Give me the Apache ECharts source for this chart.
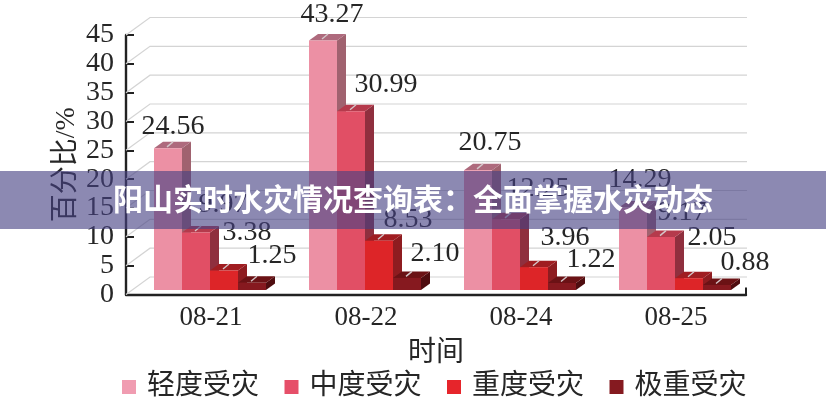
<!DOCTYPE html>
<html>
<head>
<meta charset="utf-8">
<style>html,body{margin:0;padding:0;background:#fff}#c{width:826px;height:400px}</style>
<script src="https://cdn.jsdelivr.net/npm/echarts@6/dist/echarts.min.js"></script>
</head>
<body>
<div id="c"></div>
<script>
const categories = ['08-21', '08-22', '08-24', '08-25'];
const seriesNames = ['轻度受灾', '中度受灾', '重度受灾', '极重受灾'];
const mild = [24.56, 43.27, 20.75, 14.29];
const moderate = [9.97, 30.99, 12.25, 9.17];
const severe = [3.38, 8.53, 3.96, 2.05];
const extreme = [1.25, 2.10, 1.22, 0.88];
const yTicks = [0, 5, 10, 15, 20, 25, 30, 35, 40, 45];
const bannerText = '阳山实时水灾情况查询表：全面掌握水灾动态';

const labelShift = [
  [[5, -22], [9, -26], [12, -28], [7, -28]],
  [[27, -28], [35, -27], [32, -31], [21, -24]],
  [[23, -38], [29, -21], [31, -30], [23, -41]],
  [[20, -27], [28, -24], [29, -23], [28, -22]]
];
const palette = [
  {front: '#ec90a4', side: '#a0626f', top: '#ae6a7d', legend: '#f09cb1'},
  {front: '#e14f65', side: '#8f2f3e', top: '#b53a4c', legend: '#e64f69'},
  {front: '#dd2528', side: '#8e1c20', top: '#a01d21', legend: '#e6252b'},
  {front: '#86191f', side: '#4f0d10', top: '#6b1215', legend: '#851a20'}
];
const serif = '"Liberation Serif","Noto Sans CJK SC",serif';
const ink = '#262626';
const BAR_W = 28, DEPTH_X = 9, DEPTH_Y = 6.5, FLOOR_X = 6.5, FLOOR_Y = 4.5;
const WALL_X = 24, WALL_Y = 17.5;

function barSeries(si, values) {
  const c = palette[si];
  return {
    type: 'custom', name: seriesNames[si], z: 3, clip: false,
    itemStyle: {color: c.legend},
    data: values.map((v, i) => [i, v]),
    encode: {x: 0, y: 1},
    renderItem(params, api) {
      const g = api.value(0), v = api.value(1);
      const p = api.coord([g, v]), b = api.coord([g, 0]);
      const x0 = p[0] + FLOOR_X - 2 * BAR_W + si * BAR_W, x1 = x0 + BAR_W;
      const yt = p[1] - FLOOR_Y, yb = b[1] - FLOOR_Y;
      const cx = x0 + BAR_W / 2;
      const s = labelShift[si][g];
      return {type: 'group', children: [
        {type: 'polygon', shape: {points: [[x1, yt], [x1 + DEPTH_X, yt - DEPTH_Y], [x1 + DEPTH_X, yb - DEPTH_Y], [x1, yb]]}, style: {fill: c.side}},
        {type: 'polygon', shape: {points: [[x0, yt], [x0 + DEPTH_X, yt - DEPTH_Y], [x1 + DEPTH_X, yt - DEPTH_Y], [x1, yt]]}, style: {fill: c.top}},
        {type: 'rect', shape: {x: x0, y: yt, width: BAR_W, height: yb - yt}, style: {fill: c.front}},
        {type: 'line', shape: {x1: cx - 1, y1: yt - 1.5, x2: cx + 5, y2: yt - 6.5}, style: {stroke: '#d3c6c9', lineWidth: 1.4}},
        {type: 'text', z2: 20, style: {
          text: v.toFixed(2), x: cx + s[0], y: yt + s[1], align: 'center', verticalAlign: 'middle',
          font: '28px ' + serif, fill: ink
        }}
      ]};
    }
  };
}

const wallSeries = {
  type: 'custom', name: 'wall', z: 1, silent: true, clip: false,
  data: yTicks.map(t => [0, t]),
  encode: {x: 0, y: 1},
  renderItem(params, api) {
    const t = api.value(1);
    const y = api.coord([0, t])[1];
    const r = params.coordSys;
    const left = r.x, right = r.x + r.width;
    return {type: 'group', children: [
      {type: 'polyline', shape: {points: [[left, y], [left + WALL_X, y - WALL_Y], [right + 1, y - WALL_Y]]},
       style: {stroke: '#d4d4d4', lineWidth: 1.2, fill: null}}
    ].concat(t === 0 ? [{type: 'line', shape: {x1: right, y1: y + 1, x2: right, y2: y - 7}, style: {stroke: '#222', lineWidth: 2}}] : [])};
  }
};

const chart = echarts.init(document.getElementById('c'), null, {renderer: 'canvas'});
chart.setOption({
  animation: false,
  backgroundColor: '#fff',
  grid: {left: 126, top: 35, width: 620, height: 259.5},
  legend: {
    data: seriesNames, left: 117, top: 368, itemWidth: 14, itemHeight: 14, itemGap: 25.5,
    icon: 'rect', selectedMode: false,
    textStyle: {fontSize: 28, fontFamily: serif, color: ink, padding: [0, 0, 0, 6]}
  },
  xAxis: {
    type: 'category', data: categories, boundaryGap: true,
    axisLine: {lineStyle: {color: '#222', width: 2.4}},
    axisTick: {show: false},
    axisLabel: {fontSize: 27, fontFamily: serif, color: ink, margin: 10, padding: [0, 0, 0, 15]},
    name: '时间', nameLocation: 'middle', nameGap: 45, nameMoveOverlap: false,
    nameTextStyle: {fontSize: 28, fontFamily: serif, color: ink}
  },
  yAxis: {
    type: 'value', min: 0, max: 45, interval: 5,
    axisLine: {show: true, lineStyle: {color: '#222', width: 2.4}},
    axisTick: {show: true, inside: true, length: 8, lineStyle: {color: '#222', width: 2}},
    axisLabel: {fontSize: 28, fontFamily: serif, color: ink, margin: 12},
    splitLine: {show: false},
    name: '百分比/%', nameLocation: 'middle', nameGap: 45, nameMoveOverlap: false,
    nameTextStyle: {fontSize: 28, fontFamily: serif, color: ink}
  },
  series: [wallSeries, barSeries(0, mild), barSeries(1, moderate), barSeries(2, severe), barSeries(3, extreme)],
  graphic: [
    {type: 'rect', z: 100, left: 0, top: 171, shape: {width: 826, height: 58}, style: {fill: 'rgba(70,65,130,0.62)'}},
    {type: 'text', z: 101, left: 'center', top: 184, style: {
      text: bannerText, fill: '#fff', font: 'bold 30px "Noto Sans CJK SC",sans-serif'
    }}
  ]
});
</script>
</body>
</html>
